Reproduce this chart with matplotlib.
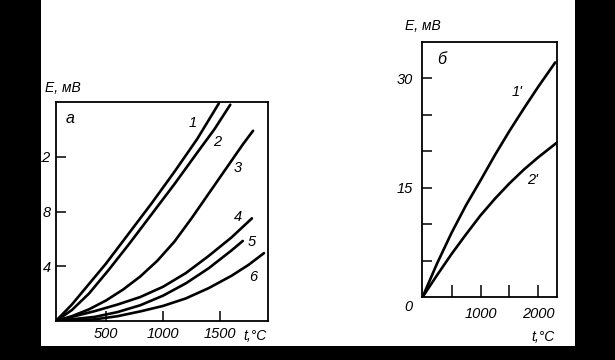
import matplotlib
matplotlib.use("Agg")
import matplotlib.pyplot as plt
from matplotlib.patches import Rectangle

plt.rcParams['font.family'] = ['Liberation Sans', 'DejaVu Sans']
plt.rcParams['font.style'] = 'italic'

# ---- panel a ----
t1 = [60, 200, 350, 500, 700, 900, 1100, 1300, 1490]
E1 = [0, 1.2, 2.7, 4.2, 6.4, 8.6, 10.9, 13.3, 15.9]
t2 = [60, 200, 350, 520, 700, 900, 1100, 1300, 1450, 1590]
E2 = [0, 0.8, 2.0, 3.7, 5.6, 7.8, 10.0, 12.3, 14.0, 15.8]
t3 = [60, 200, 350, 500, 650, 800, 950, 1100, 1250, 1400, 1550, 1700, 1790]
E3 = [0, 0.35, 0.85, 1.5, 2.3, 3.25, 4.4, 5.8, 7.5, 9.3, 11.1, 12.9, 13.9]
t4 = [60, 200, 400, 600, 800, 1000, 1200, 1400, 1600, 1780]
E4 = [0, 0.3, 0.72, 1.2, 1.75, 2.5, 3.5, 4.75, 6.1, 7.5]
t5 = [60, 400, 600, 800, 1000, 1200, 1400, 1600, 1700]
E5 = [0, 0.3, 0.65, 1.15, 1.85, 2.75, 3.85, 5.15, 5.85]
t6 = [60, 400, 600, 800, 1000, 1200, 1400, 1600, 1750, 1886]
E6 = [0, 0.12, 0.35, 0.7, 1.1, 1.65, 2.4, 3.3, 4.1, 4.96]
labels_a = ['1', '2', '3', '4', '5', '6']
label_pos_a = [(1263, 14.45), (1474, 13.07), (1658, 11.17), (1658, 7.6), (1781, 5.77), (1789, 3.2)]
xticks_a = [500, 1000, 1500]
xticklabels_a = ['500', '1000', '1500']
yticks_a = [4, 8, 12]
yticklabels_a = ['4', '8', '12']

# ---- panel b ----
t1p = [0, 250, 500, 750, 1000, 1250, 1500, 1750, 2000, 2290]
E1p = [0, 4.6, 8.8, 12.6, 16.0, 19.5, 22.8, 25.9, 28.9, 32.2]
t2p = [0, 250, 500, 750, 1000, 1250, 1500, 1750, 2000, 2320]
E2p = [0, 3.0, 5.9, 8.6, 11.2, 13.5, 15.6, 17.5, 19.2, 21.2]
labels_b = ["1'", "2'"]
label_pos_b = [(1638, 28.2), (1897, 16.1)]
xticks_b = [500, 1000, 1500, 2000]
xticklabels_b = ['', '1000', '', '2000']
yticks_b = [5, 10, 15, 20, 25, 30]
yticklabels_b = ['', '', '15', '', '', '30']

W, H = 615, 360
fig = plt.figure(figsize=(W / 100, H / 100), dpi=100)
fig.patch.set_facecolor('white')

def fx(x):
    return x / W

def fy(y):
    return (H - y) / H

lw_curve = 1.9
fs = 10.5
fs_title = 10

axa = fig.add_axes([fx(56), fy(321), (268 - 56) / W, (321 - 102) / H])
for t, E in [(t1, E1), (t2, E2), (t3, E3), (t4, E4), (t5, E5), (t6, E6)]:
    axa.plot(t, E, color='black', lw=lw_curve, solid_capstyle='round', solid_joinstyle='round')
for lab, (x, y) in zip(labels_a, label_pos_a):
    axa.text(x, y, lab, fontsize=fs, ha='center', va='center')
axa.text(184, 14.8, 'а', fontsize=fs + 1, ha='center', va='center')
axa.set_xlim(61, 1921)
axa.set_ylim(0, 16)
axa.set_xticks(xticks_a)
axa.set_xticklabels(xticklabels_a)
axa.set_yticks(yticks_a)
axa.set_yticklabels(yticklabels_a)
axa.tick_params(axis='x', direction='in', length=7, width=1.1, pad=4, labelsize=fs)
axa.tick_params(axis='y', direction='in', length=7, width=1.1, pad=3.5, labelsize=fs)
for s in axa.spines.values():
    s.set_linewidth(1.3)

axb = fig.add_axes([fx(422), fy(297), (557 - 422) / W, (297 - 42) / H])
for t, E in [(t1p, E1p), (t2p, E2p)]:
    axb.plot(t, E, color='black', lw=lw_curve, solid_capstyle='round', solid_joinstyle='round')
for lab, (x, y) in zip(labels_b, label_pos_b):
    axb.text(x, y, lab, fontsize=fs, ha='center', va='center')
axb.text(328, 32.6, 'б', fontsize=fs + 1, ha='center', va='center')
axb.set_xlim(-10, 2320)
axb.set_ylim(0, 35)
axb.set_xticks(xticks_b)
axb.set_xticklabels(xticklabels_b)
axb.set_yticks(yticks_b)
axb.set_yticklabels(yticklabels_b)
axb.tick_params(axis='x', direction='in', length=9, width=1.1, pad=7, labelsize=fs)
axb.tick_params(axis='y', direction='in', length=7, width=1.1, pad=6.5, labelsize=fs)
for s in axb.spines.values():
    s.set_linewidth(1.3)

# axis titles and origin label
fig.text(fx(45), fy(88), 'E, мВ', fontsize=fs_title, ha='left', va='center')
fig.text(fx(243), fy(336), 't,°C', fontsize=fs_title, ha='left', va='center')
fig.text(fx(405), fy(26), 'E, мВ', fontsize=fs_title, ha='left', va='center')
fig.text(fx(531), fy(337), 't,°C', fontsize=fs_title, ha='left', va='center')
fig.text(fx(408), fy(307), '0', fontsize=fs, ha='center', va='center')

# dark scan borders
fig.patches.append(Rectangle((0, 0), fx(41), 1, transform=fig.transFigure,
                             facecolor='black', edgecolor='none', zorder=10))
fig.patches.append(Rectangle((fx(575), 0), 1 - fx(575), 1, transform=fig.transFigure,
                             facecolor='black', edgecolor='none', zorder=10))
fig.patches.append(Rectangle((0, 0), 1, fy(346), transform=fig.transFigure,
                             facecolor='black', edgecolor='none', zorder=10))

fig.savefig('out.png', dpi=100, facecolor='white')
